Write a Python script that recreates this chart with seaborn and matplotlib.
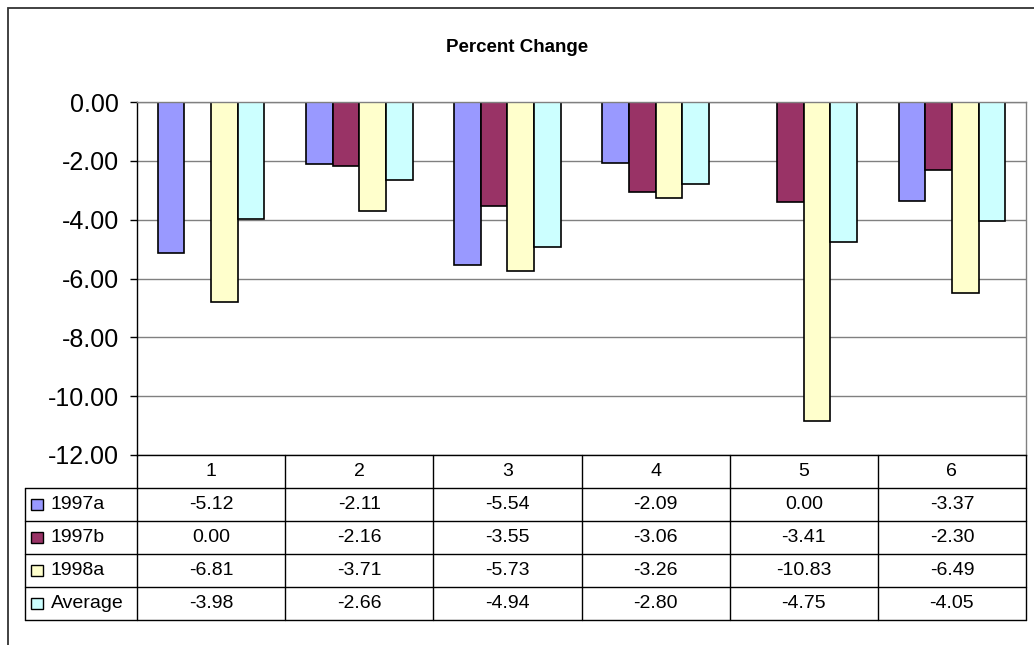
import pandas as pd
import seaborn as sns
import matplotlib.pyplot as plt
from matplotlib.patches import Rectangle

# chart values
categories = ['1', '2', '3', '4', '5', '6']
series = ['1997a', '1997b', '1998a', 'Average']
v_1997a = [-5.12, -2.11, -5.54, -2.09, 0.00, -3.37]
v_1997b = [0.00, -2.16, -3.55, -3.06, -3.41, -2.30]
v_1998a = [-6.81, -3.71, -5.73, -3.26, -10.83, -6.49]
v_average = [-3.98, -2.66, -4.94, -2.80, -4.75, -4.05]
y_ticks = [0, -2, -4, -6, -8, -10, -12]

colors = {'1997a': '#9999FF', '1997b': '#993366', '1998a': '#FFFFCC', 'Average': '#CCFFFF'}

values = {'1997a': v_1997a, '1997b': v_1997b, '1998a': v_1998a, 'Average': v_average}
rows = []
for s in series:
    for c, v in zip(categories, values[s]):
        rows.append({'period': c, 'series': s, 'value': v})
df = pd.DataFrame(rows)

sns.set_style("white")
plt.rcParams['font.family'] = ['Liberation Sans', 'DejaVu Sans']
plt.rcParams['text.color'] = 'black'
plt.rcParams['ytick.color'] = 'black'
plt.rcParams['xtick.color'] = 'black'

W, H = 1034, 645
fig = plt.figure(figsize=(W / 100, H / 100), dpi=100)

def px(x0, y0, x1, y1):
    # pixel box (left, top, right, bottom) -> figure fraction rect
    return [x0 / W, 1 - y1 / H, (x1 - x0) / W, (y1 - y0) / H]

# outer chart border
fig.patches.append(Rectangle((8 / W, -0.02), 1.05, 1 - 8 / H + 0.02, transform=fig.transFigure,
                             fill=False, edgecolor='#333333', linewidth=1.3))

fig.text(517 / W, 1 - 48 / H, 'Percent Change', ha='center', va='center',
         fontsize=13.5, fontweight='bold', color='black')

ax = fig.add_axes(px(137, 102, 1026, 455))
sns.barplot(data=df, x='period', y='value', hue='series', order=categories,
            hue_order=series, palette=colors, width=0.72, edgecolor='black',
            linewidth=1.2, saturation=1, legend=False, ax=ax)
for p in ax.patches:
    if p.get_height() == 0:
        p.set_linewidth(0)

ax.set_xlim(-0.5, 5.5)
ax.set_ylim(-12, 0)
ax.set_yticks(y_ticks)
ax.set_yticklabels([f'{t:.2f}' for t in y_ticks], fontsize=18, color='black')
ax.tick_params(axis='y', length=5, width=1, color='black', pad=8, left=True)
ax.set_xticks([])
ax.set_xlabel('')
ax.set_ylabel('')
ax.yaxis.grid(True, color='#808080', linewidth=1)
ax.set_axisbelow(True)
ax.spines['left'].set_color('black')
ax.spines['bottom'].set_color('black')
ax.spines['top'].set_color('#808080')
ax.spines['right'].set_color('#808080')
for sp in ax.spines.values():
    sp.set_linewidth(1)

# data table under the plot
tab = fig.add_axes(px(137, 455, 1026, 620))
tab.set_xlim(-0.5, 5.5)
tab.set_ylim(5, 0)
tab.axis('off')
unit = (1026 - 137) / 6
leg_left = -0.5 - (137 - 25) / unit

for k in range(7):
    tab.plot([-0.5 + k, -0.5 + k], [0, 5], color='black', lw=1, clip_on=False)
for r in range(1, 6):
    tab.plot([leg_left, 5.5], [r, r], color='black', lw=1, clip_on=False)
tab.plot([leg_left, leg_left], [1, 5], color='black', lw=1, clip_on=False)

for i, c in enumerate(categories):
    tab.text(i, 0.5, c, ha='center', va='center', fontsize=14, color='black')

for r, s in enumerate(series, start=1):
    tab.add_patch(Rectangle((leg_left + 6 / unit, r + 0.5 - 0.18), 12 / unit, 0.36,
                            facecolor=colors[s], edgecolor='black', lw=1, clip_on=False))
    tab.text(leg_left + 26 / unit, r + 0.5, s, ha='left', va='center', fontsize=14, color='black')
    for i, v in enumerate(values[s]):
        tab.text(i, r + 0.5, f'{v:.2f}', ha='center', va='center', fontsize=14, color='black')

fig.savefig('out.png', dpi=100)
